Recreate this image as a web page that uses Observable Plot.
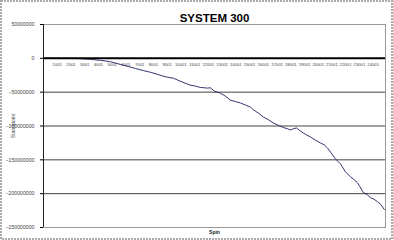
<!DOCTYPE html>
<html>
<head>
<meta charset="utf-8">
<script src="https://cdn.jsdelivr.net/npm/d3@7"></script>
<script src="https://cdn.jsdelivr.net/npm/@observablehq/plot@0.6"></script>
<style>
  html, body { margin: 0; padding: 0; background: #fff; }
  #chart { width: 393px; height: 240px; }
</style>
</head>
<body>
<div id="chart"></div>
<script>
const title = "SYSTEM 300";
const xLabel = "Spin";
const yLabel = "Standpoint";

// spin numbers and standpoint (in millions)
const spins = [1, 600, 1237, 1900, 2693, 3420, 4150, 4876, 5600, 6150, 6700, 7250, 7787, 8200, 8660, 9050, 9460, 10100, 10700, 11050, 11427, 11700, 11936, 12150, 12445, 12882, 13250, 13610, 14000, 14337, 14700, 15065, 15284, 15650, 16012, 16400, 16740, 17100, 17467, 17750, 17977, 18200, 18413, 18704, 19050, 19432, 19800, 20160, 20450, 20670, 20950, 21252, 21616, 21980, 22343, 22600, 22853, 23050, 23290, 23550, 23800, 24050, 24309, 24550, 24818];
const valuesM = [0, 0.3, 0, -0.2, -0.5, -1.5, -3, -5, -9, -12, -15, -18, -20.6, -23, -26, -28, -29.4, -35, -39.7, -41, -43, -43.5, -44, -43.5, -48.5, -51.5, -56, -61.8, -64, -66, -69, -72, -76, -81, -86.8, -91, -95.6, -99, -102.2, -104, -105.9, -104, -102.9, -107.4, -112, -116.2, -121, -125, -128, -132.4, -140, -148.5, -155.9, -167.6, -175, -179, -183.8, -190, -198.5, -201, -205.9, -208, -211.8, -216, -223.5];

const yTicks = [50000000, 0, -50000000, -100000000, -150000000, -200000000, -250000000];
const xTicks = [1001, 2001, 3001, 4001, 5001, 6001, 7001, 8001, 9001, 10001, 11001, 12001, 13001, 14001, 15001, 16001, 17001, 18001, 19001, 20001, 21001, 22001, 23001, 24001];

const data = spins.map((s, i) => ({spin: s, value: valuesM[i] * 1e6}));

const chart = Plot.plot({
  width: 393,
  height: 240,
  marginTop: 24,
  marginLeft: 43,
  marginRight: 8,
  marginBottom: 13,
  style: {fontFamily: "'Liberation Sans', Arial, sans-serif", background: "#fff", overflow: "visible"},
  x: {domain: [1, 24900], axis: null},
  y: {domain: [-250000000, 50000000]},
  marks: [
    Plot.frame({stroke: "#999"}),
    Plot.gridY(yTicks.filter(d => d !== 0 && d !== 50000000 && d !== -250000000), {stroke: "#444", strokeOpacity: 1, strokeWidth: 1}),
    Plot.ruleY([-250000000], {stroke: "#999"}),
    Plot.ruleX([1], {stroke: "#222"}),
    Plot.axisY(yTicks, {
      tickSize: 3, tickFormat: d3.format("d"), fontSize: 5.2, fill: "#444",
      label: yLabel, labelAnchor: "center", labelArrow: "none", labelOffset: 32
    }),
    Plot.text(xTicks, {x: d => d, y: 0, dy: 6, text: d => String(d), fontSize: 4.2, fill: "#444"}),
    Plot.line(data, {x: "spin", y: "value", stroke: "#1c1f5e", strokeWidth: 0.9}),
    Plot.ruleY([0], {stroke: "#000", strokeWidth: 2}),
    Plot.text([title], {frameAnchor: "top", dy: -11, fontSize: 11.5, fontWeight: "bold", fill: "#000"}),
    Plot.text([xLabel], {frameAnchor: "bottom", dy: 6, fontSize: 5, fontWeight: "bold", fill: "#222"})
  ]
});

const svg = d3.select(chart);
svg.append("rect")
  .attr("x", 1).attr("y", 1).attr("width", 391).attr("height", 238)
  .attr("fill", "none").attr("stroke", "#aaa").attr("stroke-width", 2).attr("stroke-dasharray", "2,1");
document.getElementById("chart").appendChild(chart);
</script>
</body>
</html>
